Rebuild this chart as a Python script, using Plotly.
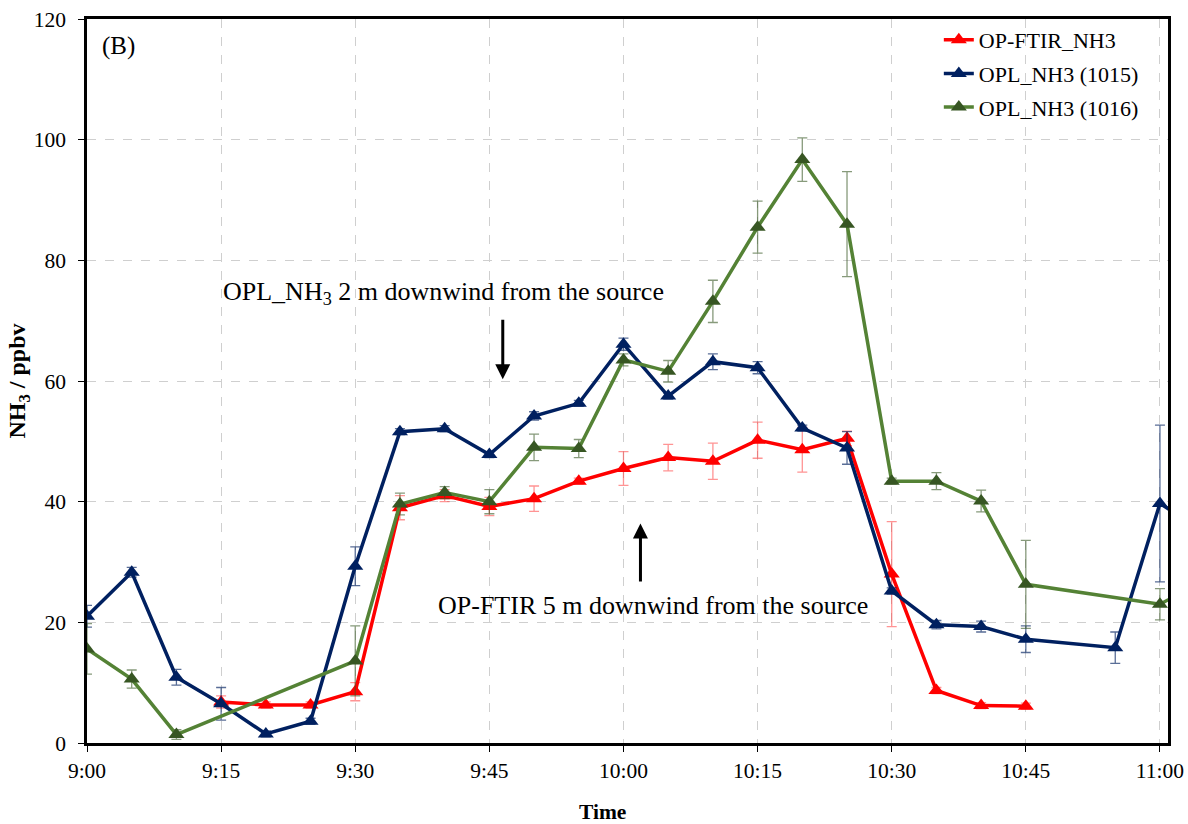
import plotly.graph_objects as go

times = ["9:00", "9:05", "9:10", "9:15", "9:20", "9:25", "9:30", "9:35", "9:40", "9:45",
         "9:50", "9:55", "10:00", "10:05", "10:10", "10:15", "10:20", "10:25", "10:30",
         "10:35", "10:40", "10:45", "10:50", "10:55", "11:00", "11:05"]

ftir_nh3 = [None, None, None, 6.8, 6.3, 6.3, 8.5, 39.0, 41.0, 39.2, 40.5, 43.4, 45.5, 47.3,
            46.7, 50.2, 48.6, 50.5, 28.0, 8.7, 6.2, 6.1, None, None, None, None]
ftir_err = [None, None, None, 1.0, 0.5, 0.5, 1.5, 2.0, 1.0, 1.5, 2.1, 0.5, 2.8, 2.2,
            3.0, 3.0, 3.7, 1.2, 8.7, 0.5, 0.5, 0.5, None, None, None, None]

opl_1015 = [21.0, 28.3, 10.9, 6.5, 1.5, 3.6, 29.3, 51.6, 52.1, 47.8, 54.2, 56.3, 66.1, 57.5,
            63.2, 62.2, 52.2, 48.9, 25.2, 19.6, 19.3, 17.2, None, 15.8, 39.7, 35.0]
opl_1015_err = [1.8, 0.8, 1.3, 2.7, 0.5, 0.5, 3.2, 0.5, 0.5, 0.5, 0.7, 0.5, 1.0, 0.5,
                1.3, 1.0, 0.5, 2.7, 0.5, 0.7, 0.9, 2.2, None, 2.6, 13.0, None]

opl_1016 = [15.6, 10.6, 1.4, None, None, None, 13.6, 39.6, 41.5, 40.0, 49.0, 48.8, 63.5, 61.6,
            73.2, 85.5, 96.7, 86.0, 43.4, 43.4, 40.1, 26.3, None, None, 23.0, 27.0]
opl_1016_err = [4.2, 1.5, 0.8, None, None, None, 5.8, 1.8, 1.0, 2.0, 2.2, 1.5, 1.0, 1.8,
                3.5, 4.3, 3.6, 8.7, 0.5, 1.4, 1.8, 7.3, None, None, 2.6, None]

tick_labels = ["9:00", "9:15", "9:30", "9:45", "10:00", "10:15", "10:30", "10:45", "11:00"]
y_ticks = [0, 20, 40, 60, 80, 100, 120]


def to_min(t):
    h, m = t.split(":")
    return (int(h) - 9) * 60 + int(m)


x = [to_min(t) for t in times]
tickvals = [to_min(t) for t in tick_labels]

FONT = "Liberation Serif"

series = [
    ("OP-FTIR_NH3", ftir_nh3, ftir_err, "#FF0000", "#FF0000", "rgba(255,60,60,0.55)"),
    ("OPL_NH3 (1015)", opl_1015, opl_1015_err, "#002060", "#002060", "rgba(0,32,96,0.65)"),
    ("OPL_NH3 (1016)", opl_1016, opl_1016_err, "#548235", "#375623", "rgba(55,86,35,0.6)"),
]

fig = go.Figure()
for i, (name, vals, errs, lc, mc, ec) in enumerate(series):
    fig.add_trace(go.Scatter(
        x=x, y=vals, name=name, mode="lines+markers", connectgaps=True,
        line=dict(color=lc, width=3.5),
        marker=dict(symbol="triangle-up", size=14, color=mc),
        error_y=dict(type="data", array=[e if e is not None else 0 for e in errs],
                     visible=True, color=ec, thickness=1.3, width=5),
        legendgroup=f"g{i}",
        cliponaxis=True,
    ))

fig.update_layout(
    width=1188, height=824,
    margin=dict(l=87, r=20, t=19, b=81),
    plot_bgcolor="white", paper_bgcolor="white",
    font=dict(family=FONT, size=21, color="black"),
    showlegend=True,
    legend=dict(x=0.788, y=1.0, xanchor="left", yanchor="top",
                font=dict(family=FONT, size=22, color="black"),
                bgcolor="rgba(0,0,0,0)", traceorder="grouped", tracegroupgap=2),
    xaxis=dict(range=[0, 120.9], tickvals=tickvals, ticktext=tick_labels,
               showline=True, linecolor="black", linewidth=2.5, mirror=True,
               ticks="outside", ticklen=6, tickcolor="black", tickwidth=1,
               showgrid=True, gridcolor="#CFCFCF", griddash="dash", gridwidth=1,
               zeroline=False, automargin=False,
               tickfont=dict(family=FONT, size=21.5)),
    yaxis=dict(range=[0, 120], tickvals=y_ticks,
               showline=True, linecolor="black", linewidth=2.5, mirror=True,
               ticks="outside", ticklen=6, tickcolor="black", tickwidth=1,
               showgrid=True, gridcolor="#CFCFCF", griddash="dash", gridwidth=1,
               zeroline=False, automargin=False, ticklabelstandoff=8,
               title=dict(text="<b>NH<sub>3</sub> / ppbv</b>", font=dict(family=FONT, size=24), standoff=2),
               tickfont=dict(family=FONT, size=21.5)),
)

fig.add_annotation(xref="paper", yref="paper", x=0.4773, y=-0.0953, xanchor="center", yanchor="middle",
                   text="<b>Time</b>", showarrow=False, font=dict(family=FONT, size=21.5))
fig.add_annotation(xref="paper", yref="paper", x=0.012, y=0.985, xanchor="left", yanchor="top",
                   text="(B)", showarrow=False, font=dict(family=FONT, size=25))
fig.add_annotation(xref="x", yref="y", x=39.9, y=74.6, text="OPL_NH<sub>3</sub> 2 m downwind from the source",
                   showarrow=False, font=dict(family=FONT, size=26))
fig.add_annotation(xref="x", yref="y", x=63.3, y=22.8, text="OP-FTIR 5 m downwind from the source",
                   showarrow=False, font=dict(family=FONT, size=26))
fig.add_annotation(xref="x", yref="y", axref="x", ayref="y", x=46.5, y=60.3, ax=46.5, ay=70.4,
                   text="", showarrow=True, arrowhead=2, arrowsize=1, arrowwidth=3, arrowcolor="black")
fig.add_annotation(xref="x", yref="y", axref="x", ayref="y", x=61.9, y=36.4, ax=61.9, ay=26.5,
                   text="", showarrow=True, arrowhead=2, arrowsize=1, arrowwidth=3, arrowcolor="black")

fig.write_html("out.html")
